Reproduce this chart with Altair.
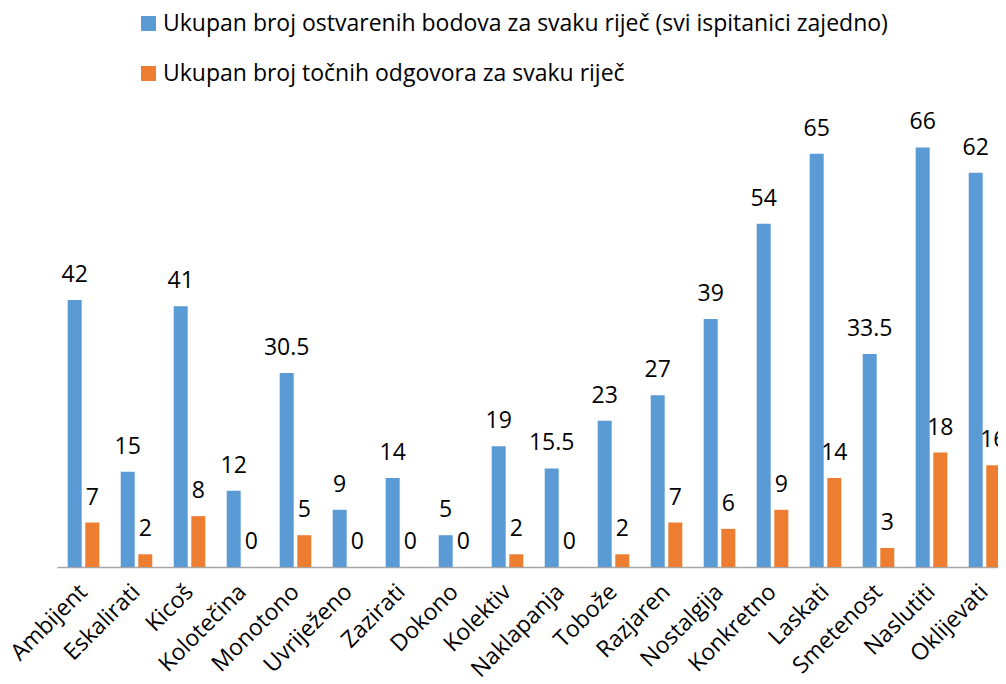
import altair as alt
import pandas as pd

categories = ["Ambijent", "Eskalirati", "Kicoš", "Kolotečina", "Monotono", "Uvriježeno",
              "Zazirati", "Dokono", "Kolektiv", "Naklapanja", "Tobože", "Razjaren",
              "Nostalgija", "Konkretno", "Laskati", "Smetenost", "Naslutiti", "Oklijevati"]
points_total = [42, 15, 41, 12, 30.5, 9, 14, 5, 19, 15.5, 23, 27, 39, 54, 65, 33.5, 66, 62]
correct_total = [7, 2, 8, 0, 5, 0, 0, 0, 2, 0, 2, 7, 6, 9, 14, 3, 18, 16]
series_names = ["Ukupan broj ostvarenih bodova za svaku riječ (svi ispitanici zajedno)",
                "Ukupan broj točnih odgovora za svaku riječ"]
series_colors = ["#5B9BD5", "#ED7D31"]

rows = []
for c, a, b in zip(categories, points_total, correct_total):
    rows.append({"word": c, "series": series_names[0], "value": a, "label": f"{a:g}"})
    rows.append({"word": c, "series": series_names[1], "value": b, "label": f"{b:g}"})
df = pd.DataFrame(rows)

FONT = "Open Sans"
FS = 23

x = alt.X("word:N", sort=categories, title=None,
          scale=alt.Scale(paddingInner=0, paddingOuter=0, range=[0, 954]),
          axis=alt.Axis(labelAngle=-45, labelAlign="right", labelBaseline="middle",
                        labelPadding=21, labelFontSize=FS, labelFont=FONT, labelColor="#000000",
                        ticks=False, domainColor="#A6A6A6", domainWidth=1.5,
                        labelOverlap=False, labelLimit=0))
xo = alt.XOffset("series:N", sort=series_names,
                 scale=alt.Scale(paddingInner=0.2045, paddingOuter=0.608))
y = alt.Y("value:Q", scale=alt.Scale(domain=[0, 70]), axis=None)
color = alt.Color("series:N", sort=series_names,
                  scale=alt.Scale(domain=series_names, range=series_colors),
                  legend=alt.Legend(title=None, orient="none", legendX=80, legendY=-110,
                                    symbolType="square", symbolSize=225, symbolStrokeWidth=0,
                                    labelFontSize=FS, labelFont=FONT, labelColor="#000000",
                                    labelLimit=0, rowPadding=26, labelOffset=3))

base = alt.Chart(df).encode(x=x, xOffset=xo, y=y)
bars = base.mark_bar().encode(color=color)
labels = base.mark_text(dy=-18, baseline="alphabetic", fontSize=FS, font=FONT,
                        color="#000000").encode(text="label:N")

chart = alt.layer(bars, labels).properties(
    width=941, height=445,
    autosize=alt.AutoSizeParams(type="none"),
    padding={"left": 49, "top": 114, "right": 0, "bottom": 117},
).configure_view(stroke=None)

chart.save("out.html", embed_options={"renderer": "svg", "actions": False})
